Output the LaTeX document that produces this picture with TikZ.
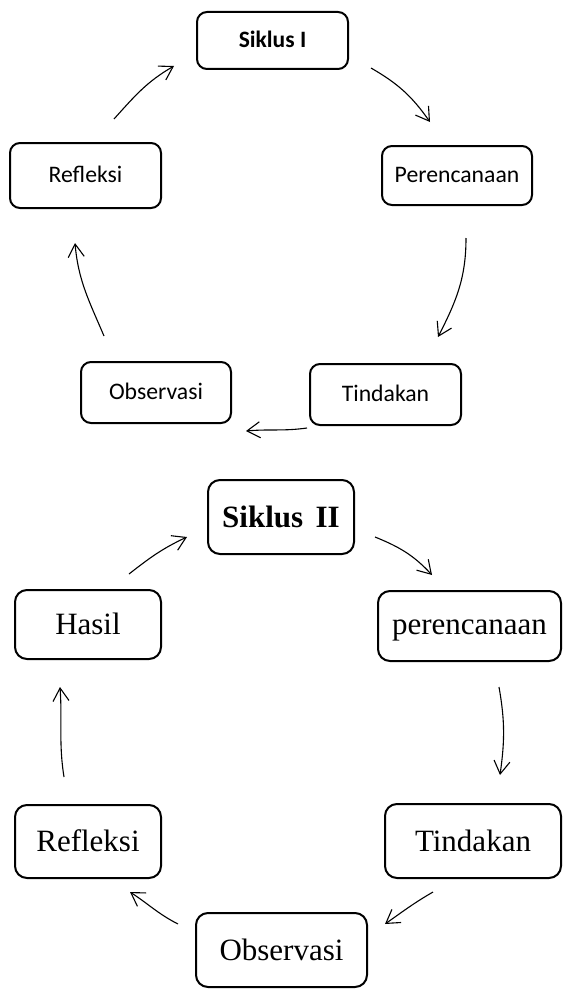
\documentclass[tikz,border=0pt]{standalone}
\usepackage{fontspec}
\setmainfont{Liberation Serif}
\newfontfamily\calib{Carlito}
\usetikzlibrary{arrows.meta}
\begin{document}
\begin{tikzpicture}[x=1pt,y=1pt,
  boxa/.style={draw, line width=2pt, rounded corners=10pt, inner sep=0pt, text height=14.5pt, text depth=0pt, font=\calib\fontsize{23.7}{27}\selectfont},
  boxb/.style={draw, line width=2pt, rounded corners=12pt, inner sep=0pt, text height=20pt, text depth=0pt, font=\fontsize{31}{36}\selectfont},
  arr/.style={line width=1.1pt, -{Straight Barb[length=13pt,width=16pt,line width=1.1pt]}}]
\useasboundingbox (0,0) rectangle (563,-998);
% top cycle
\node[boxa, minimum width=151, minimum height=57, font=\calib\bfseries\fontsize{23.5}{27}\selectfont] (si) at (272.5,-40.5) {Siklus I};
\node[boxa, minimum width=150, minimum height=59] (pa) at (457,-175.5) {Perencanaan};
\node[boxa, minimum width=151, minimum height=65] (re) at (85.5,-175.5) {Refleksi};
\node[boxa, minimum width=150, minimum height=61] (ob) at (156,-392.5) {Observasi};
\node[boxa, minimum width=151, minimum height=61] (ti) at (385.5,-394.5) {Tindakan};
\draw[arr] ([shift={(98.5,-27.5)}]si.center) to[out=-30,in=125] ([shift={(-27,53.5)}]pa.center);
\draw[arr] ([shift={(9,-62.5)}]pa.center) to[out=-90,in=63] ([shift={(52.5,57.5)}]ti.center);
\draw[arr] ([shift={(-78.5,-33.5)}]ti.center) to[out=188,in=5] ([shift={(90,-38.5)}]ob.center);
\draw[arr] ([shift={(-52,56.5)}]ob.center) to[out=113,in=-85] ([shift={(-10.5,-67.5)}]re.center);
\draw[arr] ([shift={(28.5,56.5)}]re.center) to[out=48,in=210] ([shift={(-98.5,-25.5)}]si.center);
% bottom cycle
\node[boxb, minimum width=146, minimum height=74, text height=21pt, font=\bfseries\fontsize{31}{36}\selectfont] (s2) at (281,-517) {Siklus\hspace{0.4em}II};
\node[boxb, minimum width=183, minimum height=70, text height=16pt] (pe) at (469.5,-626) {perencanaan};
\node[boxb, minimum width=146, minimum height=69] (ha) at (88,-624.5) {Hasil};
\node[boxb, minimum width=176, minimum height=74] (t2) at (473,-841) {Tindakan};
\node[boxb, minimum width=146, minimum height=73] (r2) at (88,-841.5) {Refleksi};
\node[boxb, minimum width=171, minimum height=74] (o2) at (281.5,-950) {Observasi};
\draw[arr] ([shift={(41,50.5)}]ha.center) to[out=38,in=205] ([shift={(-94,-20)}]s2.center);
\draw[arr] ([shift={(94,-20)}]s2.center) to[out=-22,in=133] ([shift={(-37.5,51)}]pe.center);
\draw[arr] ([shift={(29.5,-61)}]pe.center) to[out=-80,in=82] ([shift={(27,66)}]t2.center);
\draw[arr] ([shift={(-40,-51)}]t2.center) to[out=-150,in=35] ([shift={(103.5,26)}]o2.center);
\draw[arr] ([shift={(-103.5,26)}]o2.center) to[out=153,in=-33] ([shift={(42,-50.5)}]r2.center);
\draw[arr] ([shift={(-24,64.5)}]r2.center) to[out=99,in=-86] ([shift={(-28,-62.5)}]ha.center);
\end{tikzpicture}
\end{document}
